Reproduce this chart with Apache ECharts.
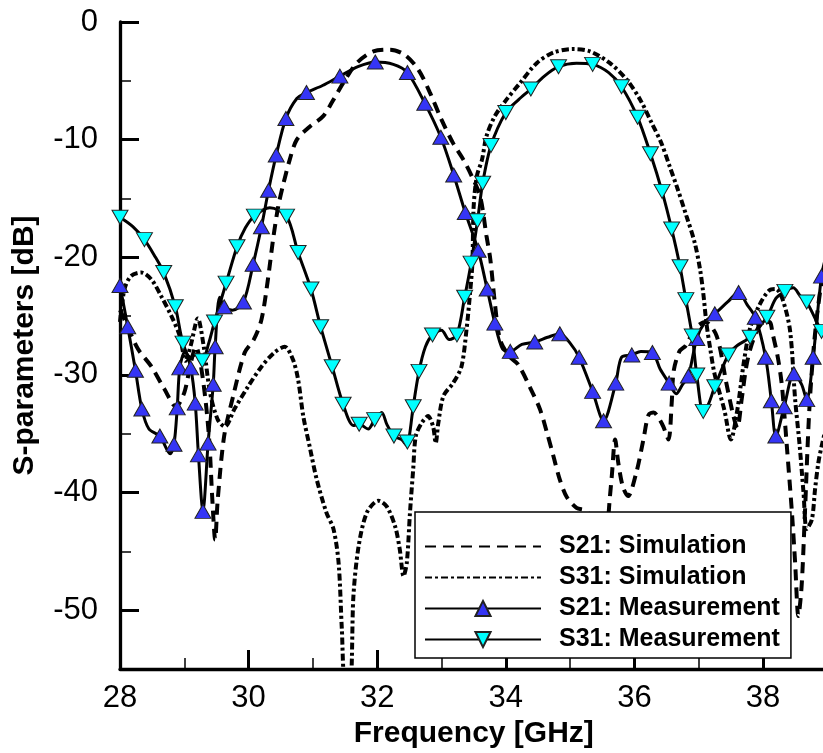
<!DOCTYPE html>
<html><head><meta charset="utf-8">
<script src="https://cdn.jsdelivr.net/npm/echarts@6/dist/echarts.min.js"></script>
<style>html,body{margin:0;padding:0;background:#fff}#c{width:823px;height:753px}</style>
</head><body><div id="c"></div>
<script>
// ---- data (frequency GHz, dB) ----
var s21Sim = [[28.0,-24.5],[28.07,-25.3],[28.28,-27.8],[28.49,-29.3],[28.69,-31.2],[28.87,-32.7],[29.0,-31.5],[29.1,-29],[29.18,-27.6],[29.28,-30],[29.38,-35],[29.44,-41],[29.48,-44],[29.52,-40.6],[29.62,-35.2],[29.76,-31.8],[29.94,-28.1],[30.08,-27],[30.2,-25.3],[30.3,-21.9],[30.38,-18.5],[30.46,-15.7],[30.53,-14.0],[30.64,-11.7],[30.75,-10.0],[30.95,-8.9],[31.16,-8.0],[31.32,-6.6],[31.47,-5.2],[31.68,-3.5],[31.94,-2.5],[32.2,-2.35],[32.43,-2.8],[32.64,-4.05],[32.82,-6.0],[33.0,-8.3],[33.18,-10.3],[33.34,-11.7],[33.47,-13.1],[33.6,-14.8],[33.7,-18.2],[33.76,-20.2],[33.83,-23.9],[33.91,-27.0],[34.05,-28.4],[34.19,-29.1],[34.38,-31.1],[34.53,-32.9],[34.64,-34.9],[34.74,-36.9],[34.84,-38.9],[34.95,-40.4],[35.1,-41.3],[35.26,-41.6],[35.4,-43.5],[35.5,-47],[35.56,-46],[35.6,-41.7],[35.65,-38.5],[35.7,-35.5],[35.75,-37.5],[35.82,-39.5],[35.9,-40.3],[36.03,-38.3],[36.14,-35.5],[36.22,-33.4],[36.3,-33.2],[36.37,-33.6],[36.45,-34.4],[36.53,-35.5],[36.58,-32.4],[36.61,-29.7],[36.7,-28],[36.8,-27.5],[36.95,-26],[37.1,-25.5],[37.28,-26.7],[37.43,-30.7],[37.54,-33.5],[37.6,-34.5],[37.67,-32],[37.75,-29],[37.85,-27],[38.0,-25.5],[38.1,-25.5],[38.15,-26.5],[38.23,-28.5],[38.29,-30.7],[38.33,-33.2],[38.37,-36],[38.45,-41.7],[38.5,-46],[38.55,-50.5],[38.6,-48],[38.65,-42],[38.72,-33],[38.8,-27],[38.9,-22.5],[39.0,-20]];

var s31Sim = [[28.0,-25.5],[28.07,-22.7],[28.17,-21.6],[28.33,-21.3],[28.49,-21.9],[28.64,-23.3],[28.8,-25.0],[28.93,-26.7],[29.02,-28.8],[29.1,-27.5],[29.21,-25.2],[29.3,-27.5],[29.4,-31.5],[29.52,-33.8],[29.63,-34.4],[29.78,-32.9],[29.99,-31.0],[30.2,-29.3],[30.4,-28.1],[30.56,-27.6],[30.69,-28.7],[30.77,-30.4],[30.85,-33.5],[30.95,-36.1],[31.06,-38.9],[31.21,-41.7],[31.32,-43.1],[31.4,-46],[31.45,-51.6],[31.5,-56],[31.58,-56],[31.63,-48.8],[31.71,-44.6],[31.84,-41.7],[32.02,-40.7],[32.15,-41.2],[32.28,-42.9],[32.35,-44.8],[32.41,-47.1],[32.46,-46.0],[32.51,-41.7],[32.56,-38.0],[32.6,-35.2],[32.69,-34.1],[32.79,-33.5],[32.87,-34.4],[32.91,-35.8],[32.95,-34.1],[33.03,-31.8],[33.18,-30.7],[33.31,-29.3],[33.39,-26.1],[33.44,-23.3],[33.48,-20.5],[33.5,-15.7],[33.55,-13.1],[33.63,-11.7],[33.7,-9.7],[33.83,-8.0],[34.01,-6.6],[34.22,-5.2],[34.48,-3.5],[34.74,-2.6],[35.05,-2.3],[35.31,-2.5],[35.62,-3.5],[35.88,-4.9],[36.09,-6.6],[36.27,-8.6],[36.42,-10.3],[36.55,-12.3],[36.66,-14.0],[36.81,-16.5],[36.94,-18.8],[37.02,-21.0],[37.07,-23.0],[37.12,-25.6],[37.18,-27.8],[37.25,-30],[37.4,-33],[37.5,-35.5],[37.6,-33],[37.7,-29],[37.8,-26],[37.95,-24],[38.1,-22.8],[38.2,-22.7],[38.3,-23.5],[38.42,-26.2],[38.5,-32.1],[38.57,-36],[38.63,-40],[38.68,-43.1],[38.76,-42.3],[38.81,-39.7],[38.86,-37.5],[38.91,-36.1],[39.0,-34]];

var s21Meas = [[28.0,-22.4],[28.12,-25.9],[28.24,-29.6],[28.34,-32.9],[28.45,-34.6],[28.62,-35.2],[28.78,-36.7],[28.84,-35.9],[28.89,-32.8],[28.93,-29.4],[29.01,-28.0],[29.10,-29.4],[29.17,-32.4],[29.22,-36.8],[29.29,-41.6],[29.37,-35.8],[29.45,-30.8],[29.48,-27.6],[29.55,-23.4],[29.62,-24.2],[29.75,-24.5],[29.92,-23.8],[30.07,-20.6],[30.2,-17.4],[30.31,-14.3],[30.43,-11.3],[30.58,-8.2],[30.75,-6.5],[30.9,-6.0],[31.15,-5.4],[31.42,-4.6],[31.7,-3.8],[31.97,-3.4],[32.25,-3.6],[32.47,-4.3],[32.74,-6.9],[32.99,-9.8],[33.19,-13.0],[33.37,-16.2],[33.57,-19.4],[33.71,-22.7],[33.83,-25.6],[33.95,-27.8],[34.07,-28.0],[34.25,-27.4],[34.45,-27.2],[34.65,-26.8],[34.84,-26.5],[35.0,-27.3],[35.14,-28.5],[35.35,-31.4],[35.52,-33.9],[35.71,-30.7],[35.8,-28.5],[35.96,-28.3],[36.1,-28.0],[36.28,-28.1],[36.4,-29.5],[36.54,-30.7],[36.65,-31.6],[36.75,-30.8],[36.84,-30.1],[36.97,-26.9],[37.1,-25.5],[37.25,-24.8],[37.45,-23.8],[37.62,-23.0],[37.75,-24],[37.88,-25.1],[38.04,-28.5],[38.13,-32.2],[38.2,-35.2],[38.33,-32.7],[38.48,-29.9],[38.6,-30.8],[38.68,-32.1],[38.78,-28.5],[38.91,-21.6],[39.0,-19.5]];
var s21MeasMarks = [[28.0,-22.4],[28.12,-25.9],[28.24,-29.6],[28.34,-32.9],[28.62,-35.2],[28.84,-35.9],[28.89,-32.8],[28.93,-29.4],[29.10,-29.4],[29.17,-32.4],[29.22,-36.8],[29.29,-41.6],[29.37,-35.8],[29.45,-30.8],[29.48,-27.6],[29.62,-24.2],[29.92,-23.8],[30.07,-20.6],[30.2,-17.4],[30.31,-14.3],[30.43,-11.3],[30.58,-8.2],[30.9,-6.0],[31.42,-4.6],[31.97,-3.4],[32.47,-4.3],[32.74,-6.9],[32.99,-9.8],[33.19,-13.0],[33.37,-16.2],[33.57,-19.4],[33.71,-22.7],[33.83,-25.6],[34.07,-28.0],[34.45,-27.2],[34.84,-26.5],[35.14,-28.5],[35.35,-31.4],[35.52,-33.9],[35.71,-30.7],[35.96,-28.3],[36.28,-28.1],[36.54,-30.7],[36.84,-30.1],[36.97,-26.9],[37.25,-24.8],[37.62,-23.0],[37.88,-25.1],[38.04,-28.5],[38.13,-32.2],[38.2,-35.2],[38.33,-32.7],[38.48,-29.9],[38.68,-32.1],[38.78,-28.5],[38.91,-21.6]];

var s31Meas = [[28.0,-16.6],[28.2,-17.4],[28.38,-18.5],[28.53,-19.8],[28.68,-21.3],[28.86,-24.2],[28.98,-27.3],[29.1,-28.5],[29.2,-28.2],[29.28,-28.8],[29.38,-27.3],[29.47,-25.5],[29.65,-22.2],[29.82,-19.1],[29.95,-17.5],[30.09,-16.5],[30.33,-15.8],[30.59,-16.5],[30.77,-19.6],[30.97,-22.7],[31.12,-25.9],[31.3,-29.3],[31.47,-32.5],[31.63,-34.3],[31.72,-34.2],[31.86,-34.6],[31.96,-33.8],[32.07,-33.2],[32.15,-34.2],[32.26,-35.2],[32.38,-35.5],[32.46,-36.0],[32.5,-35.2],[32.56,-32.7],[32.65,-29.7],[32.75,-27.6],[32.86,-26.6],[33.0,-26.2],[33.12,-27.0],[33.24,-26.6],[33.36,-23.4],[33.46,-20.5],[33.56,-16.9],[33.64,-13.7],[33.77,-10.5],[34.0,-7.7],[34.2,-6.6],[34.39,-5.7],[34.6,-4.6],[34.82,-3.8],[35.1,-3.5],[35.35,-3.6],[35.6,-4.3],[35.8,-5.5],[36.05,-8.1],[36.25,-11.2],[36.43,-14.4],[36.58,-17.6],[36.71,-20.8],[36.8,-23.6],[36.9,-26.7],[36.97,-30.0],[37.07,-33.1],[37.15,-32.5],[37.25,-31.0],[37.46,-28.3],[37.6,-27.5],[37.8,-26.8],[38.06,-25.1],[38.2,-23.5],[38.34,-22.9],[38.47,-22.6],[38.58,-23.3],[38.68,-23.8],[38.91,-26.3],[39.0,-27]];
var s31MeasMarks = [[28.0,-16.6],[28.38,-18.5],[28.68,-21.3],[28.86,-24.2],[28.98,-27.3],[29.28,-28.8],[29.47,-25.5],[29.65,-22.2],[29.82,-19.1],[30.09,-16.5],[30.59,-16.5],[30.77,-19.6],[30.97,-22.7],[31.12,-25.9],[31.3,-29.3],[31.47,-32.5],[31.72,-34.2],[31.96,-33.8],[32.26,-35.2],[32.47,-35.7],[32.56,-32.7],[32.65,-29.7],[32.86,-26.6],[33.24,-26.6],[33.36,-23.4],[33.46,-20.5],[33.56,-16.9],[33.64,-13.7],[33.77,-10.5],[34.0,-7.7],[34.39,-5.7],[34.82,-3.8],[35.35,-3.6],[35.8,-5.5],[36.05,-8.1],[36.25,-11.2],[36.43,-14.4],[36.58,-17.6],[36.71,-20.8],[36.8,-23.6],[36.9,-26.7],[36.97,-30.0],[37.07,-33.1],[37.25,-31.0],[37.46,-28.3],[37.8,-26.8],[38.06,-25.1],[38.34,-22.9],[38.68,-23.8],[38.91,-26.3]];

var seriesNames = ['S21: Simulation','S31: Simulation','S21: Measurement','S31: Measurement'];
var xTitle = 'Frequency [GHz]';
var yTitle = 'S-parameters [dB]';

// ---- chart ----
var FONT = '"Liberation Sans", Arial, sans-serif';
var BLUE = '#3535F5', CYAN = '#00FFFF';
var chart = echarts.init(document.getElementById('c'), null, {renderer:'canvas'});
var option = {
  animation:false,
  backgroundColor:'#fff',
  grid:[
    {left:120, top:22, width:771.6, height:647, containLabel:false, outerBoundsMode:'none'},
    {left:120, top:22, width:771.6, height:588.2, containLabel:false, outerBoundsMode:'none'}
  ],
  xAxis:[
    {type:'value', gridIndex:0, min:28, max:40, interval:2,
     name:xTitle, nameLocation:'middle', nameGap:46,
     nameTextStyle:{fontFamily:FONT, fontWeight:'bold', fontSize:30, color:'#000', padding:[0,64,0,0]},
     axisLine:{show:true, onZero:false, lineStyle:{color:'#000', width:3.3}},
     axisTick:{show:true, inside:true, length:19, lineStyle:{color:'#000', width:3}},
     minorTick:{show:true, splitNumber:2, length:11, lineStyle:{color:'#000', width:1.5}},
     axisLabel:{margin:14, fontFamily:FONT, fontSize:31, color:'#000'},
     splitLine:{show:false}},
    {type:'value', gridIndex:1, min:28, max:40, show:false}
  ],
  yAxis:[
    {type:'value', gridIndex:0, min:-55, max:0,
     axisLine:{show:true, onZero:false, lineStyle:{color:'#000', width:3.3}},
     axisTick:{show:false}, axisLabel:{show:false}, splitLine:{show:false},
     name:yTitle, nameLocation:'middle', nameGap:80, nameRotate:90,
     nameTextStyle:{fontFamily:FONT, fontWeight:'bold', fontSize:30, color:'#000'}},
    {type:'value', gridIndex:1, min:-50, max:0, interval:10,
     axisLine:{show:false},
     axisTick:{show:true, inside:true, length:19, lineStyle:{color:'#000', width:3}},
     minorTick:{show:true, splitNumber:2, length:11, lineStyle:{color:'#000', width:1.5}},
     axisLabel:{margin:22, fontFamily:FONT, fontSize:31, color:'#000'},
     splitLine:{show:false}}
  ],
  legend:{
    show:true, selectedMode:false, orient:'vertical',
    left:415, top:512,
    data:[
      {name:seriesNames[0], itemStyle:{opacity:0}},
      {name:seriesNames[1], itemStyle:{opacity:0}},
      {name:seriesNames[2]},
      {name:seriesNames[3]}
    ],
    backgroundColor:'#fff', borderColor:'#000', borderWidth:1.5, borderRadius:0,
    padding:[22,11,6,9], itemGap:6, itemWidth:116, itemHeight:19,
    textStyle:{fontFamily:FONT, fontWeight:'bold', fontSize:25, color:'#000', padding:[0,0,0,13], lineHeight:24}
  },
  series:[
    {name:seriesNames[0], type:'line', data:s21Sim, smooth:0.3, symbol:'none', z:3,
     itemStyle:{color:'#000'},
     lineStyle:{color:'#000', width:4, type:[11,7]}},
    {name:seriesNames[1], type:'line', data:s31Sim, smooth:0.3, symbol:'none', z:3,
     itemStyle:{color:'#000'},
     lineStyle:{color:'#000', width:4, type:[7,3,3,3]}},
    {name:seriesNames[2], type:'line', data:s21Meas, smooth:0.3, z:4,
     symbol:'triangle', symbolSize:[16,14], showSymbol:false,
     itemStyle:{color:BLUE, borderColor:'#222', borderWidth:1},
     lineStyle:{color:'#000', width:3}},
    {name:seriesNames[3], type:'line', data:s31Meas, smooth:0.3, z:4,
     symbol:'triangle', symbolRotate:180, symbolSize:[16,14], showSymbol:false,
     itemStyle:{color:CYAN, borderColor:'#222', borderWidth:1},
     lineStyle:{color:'#000', width:3}},
    {name:seriesNames[2], type:'scatter', data:s21MeasMarks, z:5,
     symbol:'triangle', symbolSize:[16,14],
     itemStyle:{color:BLUE, borderColor:'#222', borderWidth:1, opacity:1}},
    {name:seriesNames[3], type:'scatter', data:s31MeasMarks, z:5,
     symbol:'triangle', symbolRotate:180, symbolSize:[16,14],
     itemStyle:{color:CYAN, borderColor:'#222', borderWidth:1, opacity:1}}
  ]
};
chart.setOption(option);
</script>
</body></html>
